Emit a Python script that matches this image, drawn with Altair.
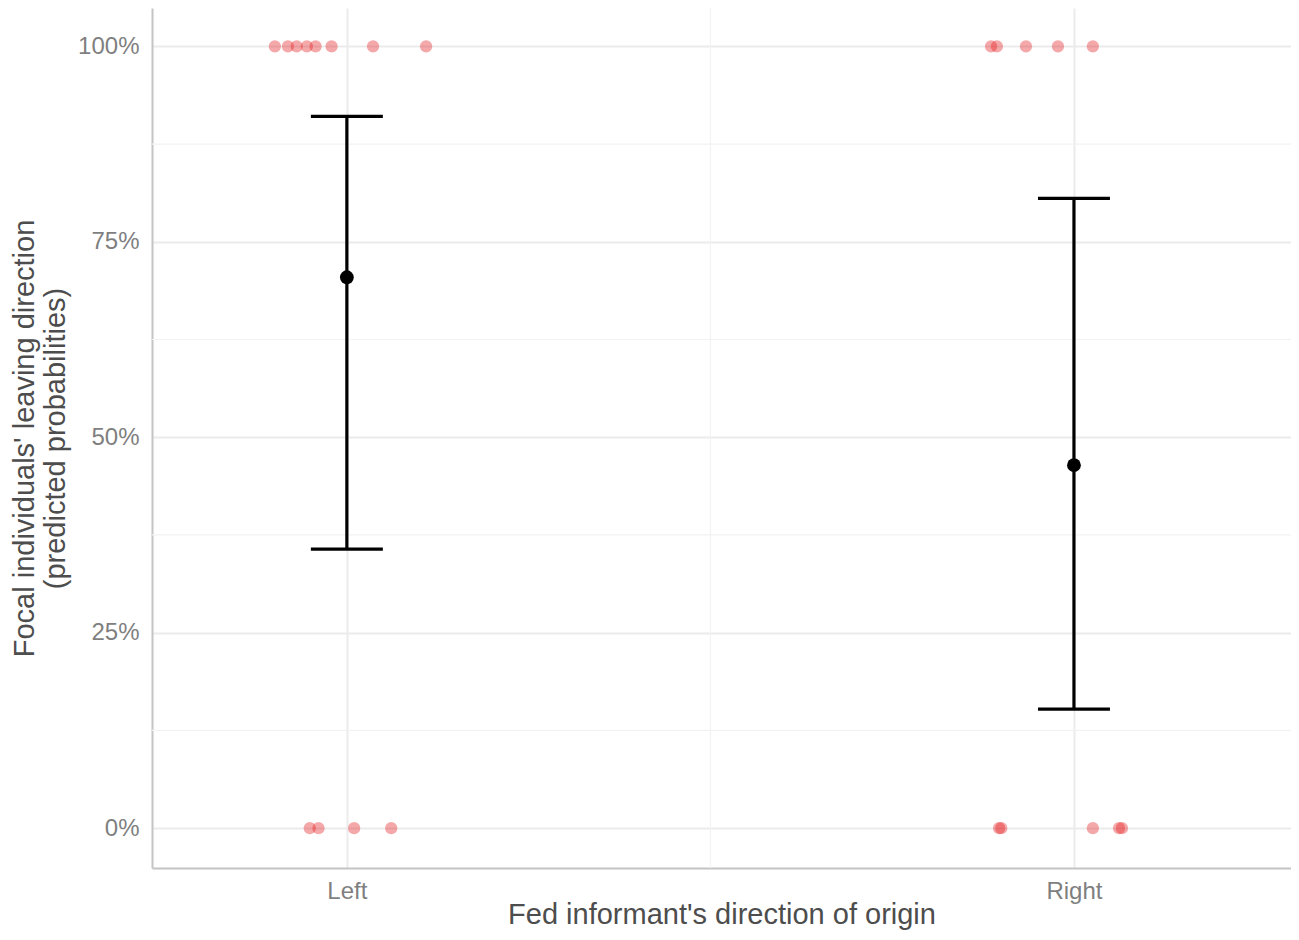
import altair as alt
import pandas as pd

# Data
groups = ["Left", "Right"]
group_pos = [1, 2]
pred_mean = [0.7046, 0.4642]
pred_low = [0.3568, 0.1522]
pred_high = [0.9105, 0.8056]

# Observed (jittered) outcomes
obs_group = ["Left"] * 12 + ["Right"] * 10
obs_x = [0.901, 0.919, 0.931, 0.945, 0.957, 0.979, 1.036, 1.109,
         0.949, 0.961, 1.010, 1.061,
         1.886, 1.894, 1.934, 1.978, 2.026,
         1.897, 1.900, 2.026, 2.062, 2.066]
obs_y = [1, 1, 1, 1, 1, 1, 1, 1,
         0, 0, 0, 0,
         1, 1, 1, 1, 1,
         0, 0, 0, 0, 0]

minor_y = [0.125, 0.375, 0.625, 0.875]
minor_x = [1.5]
cap_half = 0.0495

FONT = "Liberation Sans"
XDOM = [0.732, 2.2985]
YDOM = [-0.051, 1.049]

pts = pd.DataFrame({"group": obs_group, "x": obs_x, "y": obs_y})
est = pd.DataFrame({"group": groups, "x": group_pos, "mean": pred_mean,
                    "low": pred_low, "high": pred_high})
est["xl"] = est["x"] - cap_half
est["xr"] = est["x"] + cap_half

xscale = alt.Scale(domain=XDOM, nice=False, zero=False)
yscale = alt.Scale(domain=YDOM, nice=False, zero=False)

xaxis = alt.Axis(values=[1, 2], labelExpr="datum.value == 1 ? 'Left' : 'Right'",
                 title="Fed informant's direction of origin",
                 grid=True, gridColor="#EBEBEB", gridWidth=2,
                 ticks=False, domainColor="#C4C4C4", domainWidth=2,
                 labelFont=FONT, labelFontSize=24, labelColor="#7F7F7F", labelPadding=11,
                 titleFont=FONT, titleFontSize=29, titleFontWeight="normal",
                 titleColor="#4D4D4D", titleBaseline="alphabetic", titleY=55)
yaxis = alt.Axis(values=[0, 0.25, 0.5, 0.75, 1], format=".0%",
                 title=["Focal individuals' leaving direction", "(predicted probabilities)"],
                 grid=True, gridColor="#EBEBEB", gridWidth=2,
                 ticks=False, domainColor="#C4C4C4", domainWidth=2,
                 labelFont=FONT, labelFontSize=24, labelColor="#7F7F7F", labelPadding=13,
                 titleFont=FONT, titleFontSize=29, titleFontWeight="normal",
                 titleColor="#4D4D4D", titlePadding=7, titleLineHeight=31)

minor_h = alt.Chart(pd.DataFrame({"y": minor_y})).mark_rule(
    color="#F2F2F2", strokeWidth=1.2).encode(
    y=alt.Y("y:Q", scale=yscale, axis=yaxis))
minor_v = alt.Chart(pd.DataFrame({"x": minor_x})).mark_rule(
    color="#F2F2F2", strokeWidth=1.2).encode(
    x=alt.X("x:Q", scale=xscale, axis=xaxis))

points = alt.Chart(pts).mark_circle(size=150, color="#E41A1C", opacity=0.38).encode(
    x=alt.X("x:Q", scale=xscale, axis=xaxis),
    y=alt.Y("y:Q", scale=yscale, axis=yaxis))

bars = alt.Chart(est).mark_rule(color="black", strokeWidth=3.2).encode(
    x=alt.X("x:Q", scale=xscale, axis=xaxis),
    y=alt.Y("low:Q", scale=yscale, axis=yaxis), y2="high:Q")
cap_hi = alt.Chart(est).mark_rule(color="black", strokeWidth=3.2).encode(
    x=alt.X("xl:Q", scale=xscale, axis=xaxis), x2="xr:Q",
    y=alt.Y("high:Q", scale=yscale, axis=yaxis))
cap_lo = alt.Chart(est).mark_rule(color="black", strokeWidth=3.2).encode(
    x=alt.X("xl:Q", scale=xscale, axis=xaxis), x2="xr:Q",
    y=alt.Y("low:Q", scale=yscale, axis=yaxis))
means = alt.Chart(est).mark_circle(size=190, color="black", opacity=1).encode(
    x=alt.X("x:Q", scale=xscale, axis=xaxis),
    y=alt.Y("mean:Q", scale=yscale, axis=yaxis))

chart = alt.layer(minor_h, minor_v, points, bars, cap_hi, cap_lo, means).properties(
    width=1139, height=860,
    autosize=alt.AutoSizeParams(type="none"),
    padding={"left": 144, "top": 0, "right": 0, "bottom": 62},
).configure(background="white").configure_view(strokeOpacity=0)

chart.save("out.html", embed_options={"renderer": "svg", "actions": False})
